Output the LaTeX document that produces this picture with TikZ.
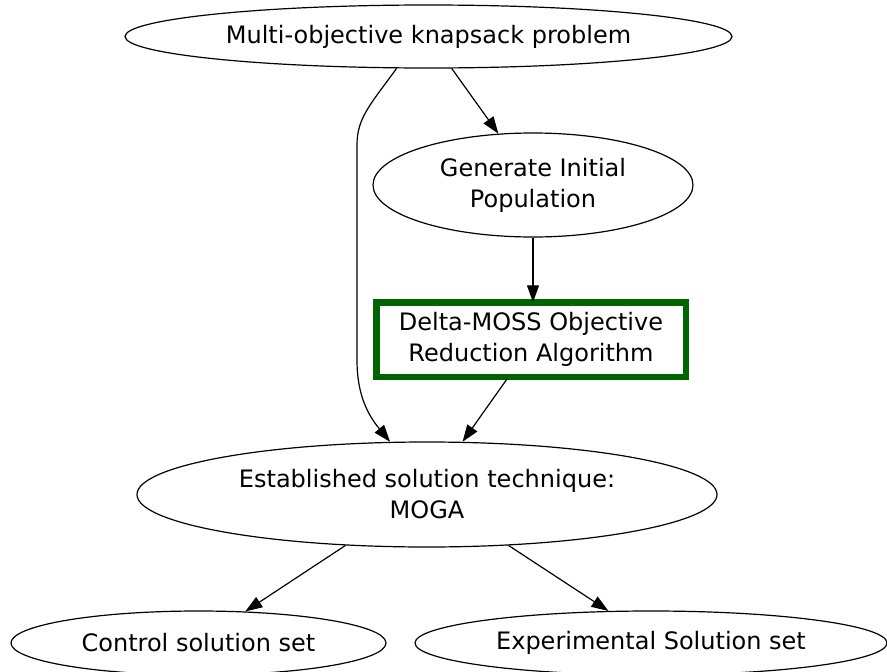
\documentclass[tikz,border=0pt]{standalone}
\usepackage{fontspec}
\setmainfont{DejaVu Sans}
\usetikzlibrary{arrows.meta,shapes.geometric}
\definecolor{dkgreen}{HTML}{006400}
\begin{document}
\begin{tikzpicture}[x=1pt,y=-1pt,
  every node/.style={font=\fontsize{24}{31}\selectfont, align=center, inner sep=0pt},
  oval/.style={ellipse, draw=black, line width=1.2pt},
  algobox/.style={rectangle, draw=dkgreen, line width=6.5pt, outer sep=0pt},
  flow/.style={line width=1.2pt, -{Triangle[length=17pt,width=12pt]}}
]
\useasboundingbox[fill=white] (0,0) rectangle (887,672);

% nodes
\node[oval, minimum width=607pt, minimum height=63pt] (mokp) at (428.5,36.5) {Multi-objective knapsack problem};
\node[oval, minimum width=320pt, minimum height=104pt] (init) at (533,185) {Generate Initial\\Population};
\node[algobox, minimum width=309.5pt, minimum height=74.5pt] (dmoss) at (531,339.5) {Delta-MOSS Objective\\ Reduction Algorithm};
\node[oval, minimum width=580pt, minimum height=105pt] (moga) at (427,494.5) {Established solution technique:\\MOGA};
\node[oval, minimum width=375pt, minimum height=64pt] (ctrl) at (198.5,643) {Control solution set};
\node[oval, minimum width=472pt, minimum height=64pt] (expt) at (651,643) {Experimental Solution set};

% connectors
\draw[flow] (mokp.-54) -- (init.124);
\draw[flow] (mokp.-135) .. controls (370,105) and (357,118) .. (357,145)
  -- (357,360) .. controls (357,395) and (368,415) .. (moga.125);
\draw[flow] (init.south) -- (init.south |- dmoss.north);
\draw[flow, shorten <=3.25pt] (dmoss.-121) -- (moga.56);
\draw[flow] (moga.-148) -- (ctrl.34);
\draw[flow] (moga.-32) -- (expt.143);
\end{tikzpicture}
\end{document}
